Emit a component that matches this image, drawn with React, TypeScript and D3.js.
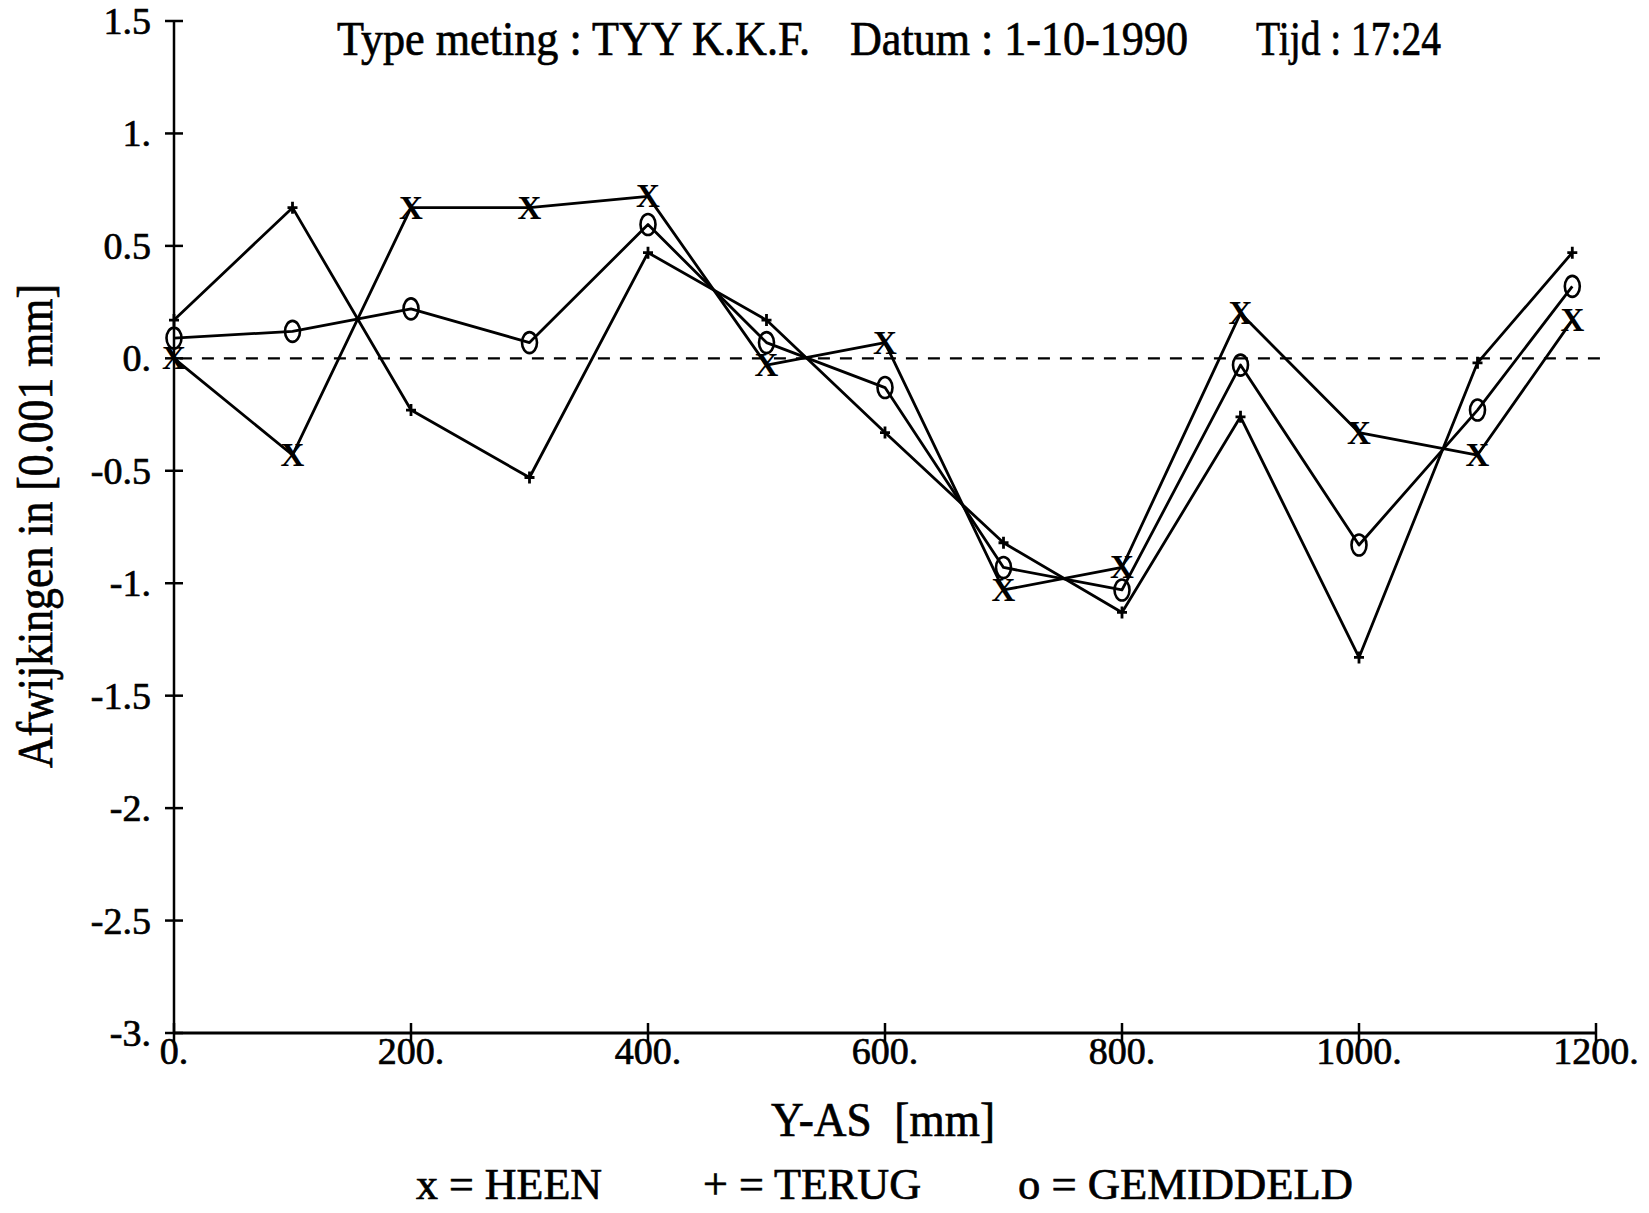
import React, { useEffect, useRef } from "react";
import * as d3 from "d3";

// meetposities langs de Y-as [mm]
const posities = [0, 100, 200, 300, 400, 500, 600, 700, 800, 900, 1000, 1100, 1180];
// afwijkingen in [0.001 mm]
const heen = [0.0, -0.43, 0.67, 0.67, 0.72, -0.03, 0.07, -1.03, -0.93, 0.2, -0.33, -0.43, 0.17];
const terug = [0.17, 0.67, -0.23, -0.53, 0.47, 0.17, -0.33, -0.82, -1.13, -0.26, -1.33, -0.02, 0.47];
const gemiddeld = [0.09, 0.12, 0.22, 0.07, 0.595, 0.07, -0.13, -0.93, -1.03, -0.03, -0.83, -0.23, 0.32];

const xTicks = [0, 200, 400, 600, 800, 1000, 1200];
const yTicks = [-3, -2.5, -2, -1.5, -1, -0.5, 0, 0.5, 1, 1.5];

const titleParts = ["Type meting : TYY K.K.F.", "Datum : 1-10-1990", "Tijd : 17:24"];
const legendParts = ["x = HEEN", "+ = TERUG", "o = GEMIDDELD"];

const WIDTH = 1649;
const HEIGHT = 1213;
const FONT = "'Liberation Serif', 'Times New Roman', serif";

export default function App() {
  const rootElem = useRef<HTMLDivElement>(null);

  function createChart(element: any) {
    element.select("svg").remove();

    const x = d3.scaleLinear([0, 1200], [174, 1596]);
    const y = d3.scaleLinear([-3, 1.5], [1033, 21]);
    const fmt = (v: number) => (Number.isInteger(v) ? v + "." : String(v));

    const svg = element
      .append("svg")
      .attr("width", WIDTH)
      .attr("height", HEIGHT)
      .style("position", "absolute")
      .style("left", "0px")
      .style("top", "0px")
      .style("background", "#fff")
      .attr("font-family", FONT);

    // scan-achtige, iets vettere letters
    const heavy = (sel: any) => sel.attr("stroke", "#000").attr("stroke-width", 0.7);

    // titel
    const titleX = [337, 850, 1256];
    const titleW = [473, 338, 185];
    svg
      .selectAll(".title")
      .data(titleParts)
      .enter()
      .append("text")
      .attr("class", "title")
      .attr("x", (d, i) => titleX[i])
      .attr("y", 55)
      .attr("font-size", 48)
      .attr("textLength", (d, i) => titleW[i])
      .attr("lengthAdjust", "spacingAndGlyphs")
      .call(heavy)
      .text((d) => d);

    // nul-lijn (gestreept)
    svg
      .append("line")
      .attr("x1", x(5))
      .attr("x2", 1600)
      .attr("y1", y(0))
      .attr("y2", y(0))
      .attr("stroke", "#000")
      .attr("stroke-width", 2.2)
      .attr("stroke-dasharray", "12,10");

    // y-as
    svg
      .append("line")
      .attr("x1", x(0))
      .attr("x2", x(0))
      .attr("y1", y(1.5))
      .attr("y2", y(-3))
      .attr("stroke", "#000")
      .attr("stroke-width", 2.5);

    const yAxis = svg.append("g").attr("class", "Yaxis");
    yAxis
      .selectAll("line")
      .data(yTicks)
      .enter()
      .append("line")
      .attr("x1", x(0) - 9)
      .attr("x2", x(0) + 9)
      .attr("y1", (d) => y(d))
      .attr("y2", (d) => y(d))
      .attr("stroke", "#000")
      .attr("stroke-width", 2.5);
    yAxis
      .selectAll("text")
      .data(yTicks)
      .enter()
      .append("text")
      .attr("x", 151)
      .attr("y", (d) => y(d) + 13)
      .attr("text-anchor", "end")
      .attr("font-size", 38)
      .call(heavy)
      .text((d) => fmt(d));

    // x-as
    svg
      .append("line")
      .attr("x1", x(0))
      .attr("x2", x(1200))
      .attr("y1", y(-3))
      .attr("y2", y(-3))
      .attr("stroke", "#000")
      .attr("stroke-width", 3);

    const xAxis = svg.append("g").attr("class", "Xaxis");
    xAxis
      .selectAll("line")
      .data(xTicks)
      .enter()
      .append("line")
      .attr("x1", (d) => x(d))
      .attr("x2", (d) => x(d))
      .attr("y1", y(-3) - 10)
      .attr("y2", y(-3) + 10)
      .attr("stroke", "#000")
      .attr("stroke-width", 2.5);
    xAxis
      .selectAll("text")
      .data(xTicks)
      .enter()
      .append("text")
      .attr("x", (d) => x(d))
      .attr("y", 1064)
      .attr("text-anchor", "middle")
      .attr("font-size", 38)
      .call(heavy)
      .text((d) => fmt(d));

    // as-titels
    svg
      .append("text")
      .attr("x", 771)
      .attr("y", 1136)
      .attr("font-size", 48)
      .attr("textLength", 224)
      .attr("lengthAdjust", "spacingAndGlyphs")
      .style("white-space", "pre")
      .call(heavy)
      .text("Y-AS  [mm]");

    svg
      .append("text")
      .attr("transform", "translate(52, 526) rotate(-90)")
      .attr("text-anchor", "middle")
      .attr("font-size", 50)
      .attr("textLength", 484)
      .attr("lengthAdjust", "spacingAndGlyphs")
      .call(heavy)
      .text("Afwijkingen in [0.001 mm]");

    // lijnen
    const series = [heen, terug, gemiddeld];
    const line = d3
      .line<number>()
      .x((d, i) => x(posities[i]))
      .y((d) => y(d));

    svg
      .selectAll(".serie")
      .data(series)
      .enter()
      .append("path")
      .attr("class", "serie")
      .attr("d", (d) => line(d))
      .attr("fill", "none")
      .attr("stroke", "#000")
      .attr("stroke-width", 2.8)
      .attr("stroke-linejoin", "round");

    // markers: x = heen
    svg
      .selectAll(".mHeen")
      .data(heen)
      .enter()
      .append("text")
      .attr("class", "mHeen")
      .attr("x", (d, i) => x(posities[i]))
      .attr("y", (d) => y(d) + 11)
      .attr("text-anchor", "middle")
      .attr("font-size", 33)
      .attr("font-weight", "bold")
      .text("X");

    // + = terug
    svg
      .selectAll(".mTerug")
      .data(terug)
      .enter()
      .append("path")
      .attr("class", "mTerug")
      .attr("d", (d, i) => {
        const px = x(posities[i]);
        const py = y(d);
        return `M${px - 5},${py}H${px + 5}M${px},${py - 6}V${py + 6}`;
      })
      .attr("stroke", "#000")
      .attr("stroke-width", 2.8);

    // o = gemiddeld
    svg
      .selectAll(".mGem")
      .data(gemiddeld)
      .enter()
      .append("ellipse")
      .attr("class", "mGem")
      .attr("cx", (d, i) => x(posities[i]))
      .attr("cy", (d) => y(d))
      .attr("rx", 7.5)
      .attr("ry", 10.5)
      .attr("fill", "none")
      .attr("stroke", "#000")
      .attr("stroke-width", 2.6);

    // legenda
    const legendX = [416, 703, 1018];
    const legendW = [186, 218, 335];
    svg
      .selectAll(".legend")
      .data(legendParts)
      .enter()
      .append("text")
      .attr("class", "legend")
      .attr("x", (d, i) => legendX[i])
      .attr("y", 1199)
      .attr("font-size", 44)
      .attr("textLength", (d, i) => legendW[i])
      .attr("lengthAdjust", "spacingAndGlyphs")
      .call(heavy)
      .text((d) => d);
  }

  useEffect(() => {
    const element = d3.select(rootElem.current);
    createChart(element);
  });

  return <div ref={rootElem}></div>;
}
